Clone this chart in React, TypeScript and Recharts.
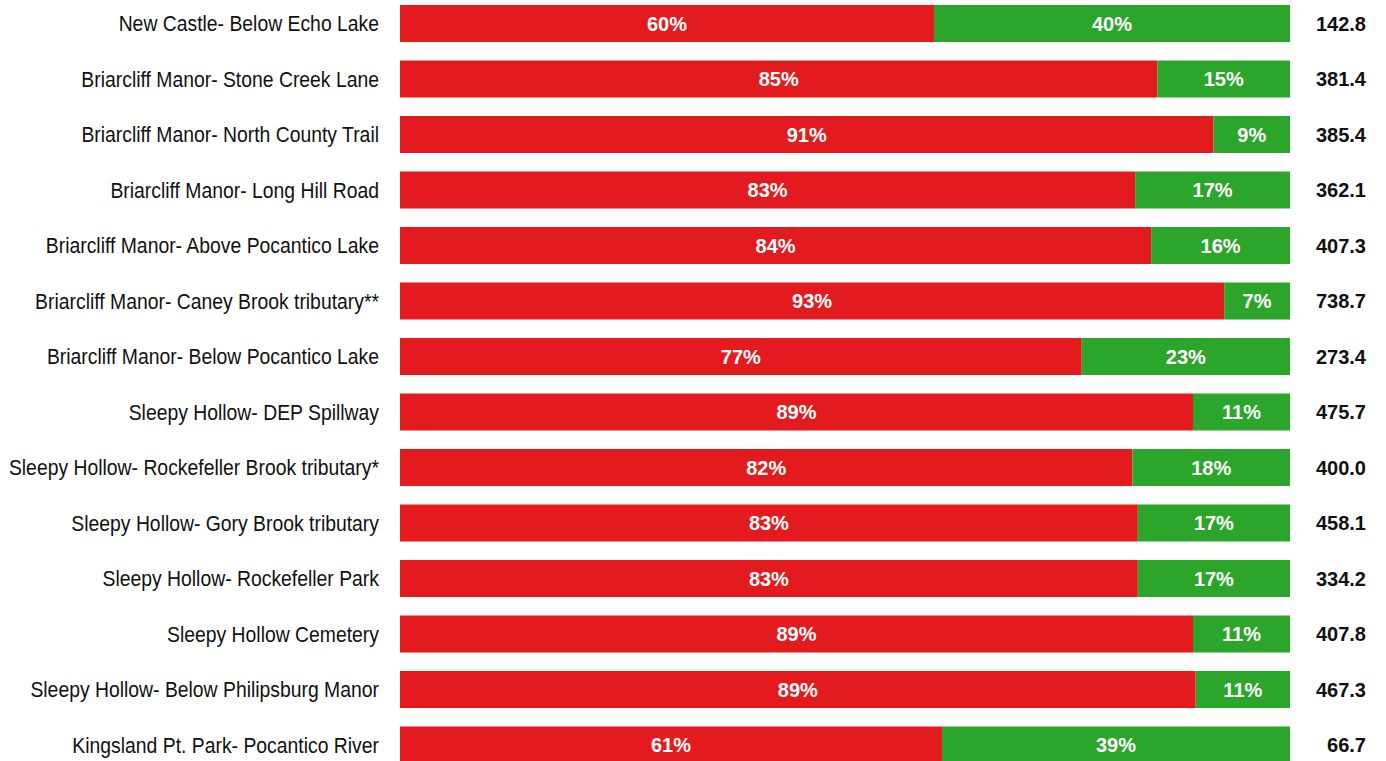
import { Bar, BarChart, LabelList, XAxis, YAxis } from "recharts";

const sites = [
  "New Castle- Below Echo Lake",
  "Briarcliff Manor- Stone Creek Lane",
  "Briarcliff Manor- North County Trail",
  "Briarcliff Manor- Long Hill Road",
  "Briarcliff Manor- Above Pocantico Lake",
  "Briarcliff Manor- Caney Brook tributary**",
  "Briarcliff Manor- Below Pocantico Lake",
  "Sleepy Hollow- DEP Spillway",
  "Sleepy Hollow- Rockefeller Brook tributary*",
  "Sleepy Hollow- Gory Brook tributary",
  "Sleepy Hollow- Rockefeller Park",
  "Sleepy Hollow Cemetery",
  "Sleepy Hollow- Below Philipsburg Manor",
  "Kingsland Pt. Park- Pocantico River",
];

const redShare = [60.0, 85.1, 91.4, 82.6, 84.4, 92.6, 76.6, 89.1, 82.3, 82.9, 82.9, 89.1, 89.4, 60.9];
const greenShare = [40.0, 14.9, 8.6, 17.4, 15.6, 7.4, 23.4, 10.9, 17.7, 17.1, 17.1, 10.9, 10.6, 39.1];
const totals = ["142.8", "381.4", "385.4", "362.1", "407.3", "738.7", "273.4", "475.7", "400.0", "458.1", "334.2", "407.8", "467.3", "66.7"];

const RED = "#e31b1e";
const GREEN = "#2ba62b";
const SANS = "'Liberation Sans', Arial, sans-serif";

const data = sites.map((site, i) => ({
  site,
  red: redShare[i],
  green: greenShare[i],
  total: totals[i],
}));

// the reference uses a condensed face; squeeze the regular one horizontally
const SiteTick = ({ x = 0, y = 0, payload }: any) => (
  <g transform={`translate(${x}, ${y}) scale(0.88, 1)`}>
    <text
      x={0}
      y={0}
      dy={7.5}
      textAnchor="end"
      fill="#111"
      fontSize={22}
      fontFamily={SANS}
    >
      {payload?.value}
    </text>
  </g>
);

const pctLabel = (v: any) => `${Math.round(Number(v))}%`;

const TotalLabel = (props: any) => {
  const { x = 0, y = 0, width = 0, height = 0, index = 0 } = props;
  return (
    <text
      x={x + width + 76}
      y={y + height / 2}
      dy={7}
      textAnchor="end"
      fill="#111"
      fontSize={20}
      fontWeight="bold"
      fontFamily={SANS}
    >
      {totals[index]}
    </text>
  );
};

export default function App() {
  return (
    <div
      style={{
        position: "absolute",
        left: 0,
        top: 0,
        width: 1386,
        height: 761,
        overflow: "hidden",
        background: "#fff",
      }}
    >
      <div style={{ marginTop: -4 }}>
        <BarChart
          width={1386}
          height={777}
          data={data}
          layout="vertical"
          margin={{ top: 0, right: 96, bottom: 0, left: 0 }}
        >
          <XAxis type="number" domain={[0, 100]} hide />
          <YAxis
            type="category"
            dataKey="site"
            width={400}
            axisLine={false}
            tickLine={false}
            tickSize={0}
            tickMargin={21}
            interval={0}
            tick={<SiteTick />}
          />
          <Bar dataKey="red" stackId="a" fill={RED} barSize={37} isAnimationActive={false}>
            <LabelList
              dataKey="red"
              position="center"
              formatter={pctLabel}
              fill="#fff"
              fontSize={20}
              fontWeight="bold"
              fontFamily={SANS}
            />
          </Bar>
          <Bar dataKey="green" stackId="a" fill={GREEN} barSize={37} isAnimationActive={false}>
            <LabelList
              dataKey="green"
              position="center"
              formatter={pctLabel}
              fill="#fff"
              fontSize={20}
              fontWeight="bold"
              fontFamily={SANS}
            />
            <LabelList dataKey="total" content={<TotalLabel />} />
          </Bar>
        </BarChart>
      </div>
    </div>
  );
}
